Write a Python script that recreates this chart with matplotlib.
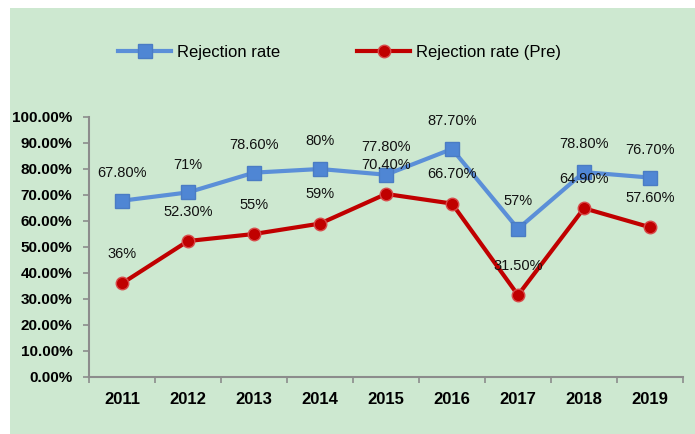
import matplotlib
matplotlib.use("Agg")
import matplotlib.pyplot as plt
from matplotlib.patches import Rectangle
from matplotlib.ticker import FuncFormatter, FixedLocator
import numpy as np

years = ["2011", "2012", "2013", "2014", "2015", "2016", "2017", "2018", "2019"]
rejection = [67.8, 71.0, 78.6, 80.0, 77.8, 87.7, 57.0, 78.8, 76.7]
rejection_pre = [36.0, 52.3, 55.0, 59.0, 70.4, 66.7, 31.5, 64.9, 57.6]
rejection_labels = ["67.80%", "71%", "78.60%", "80%", "77.80%", "87.70%", "57%", "78.80%", "76.70%"]
pre_labels = ["36%", "52.30%", "55%", "59%", "70.40%", "66.70%", "31.50%", "64.90%", "57.60%"]
yticks = [0, 10, 20, 30, 40, 50, 60, 70, 80, 90, 100]

BG = "#cde8d0"
BLUE = "#5b8fd8"
BLUE_M = "#4f86d4"
RED = "#c00000"

plt.rcParams["font.family"] = ["Liberation Sans", "DejaVu Sans"]

fig = plt.figure(figsize=(6.95, 4.34), dpi=100)
fig.patch.set_facecolor("white")
fig.patches.append(Rectangle((10 / 695, 0), 1, 1 - 8 / 434, transform=fig.transFigure,
                             facecolor=BG, edgecolor="none", zorder=-10))

ax = fig.add_axes([89 / 695, 1 - 377 / 434, (683 - 89) / 695, (377 - 117) / 434])
ax.set_facecolor("none")

x = np.arange(len(years))
ax.plot(x, rejection, color=BLUE, lw=3, marker="s", ms=9.5, mfc=BLUE_M, mec="#4a7cc4",
        mew=1, label="Rejection rate", zorder=3)
ax.plot(x, rejection_pre, color=RED, lw=3, marker="o", ms=9, mfc=RED, mec="#d84a4a",
        mew=1, label="Rejection rate (Pre)", zorder=3)

for xi, v, s in zip(x, rejection, rejection_labels):
    ax.annotate(s, (xi, v), xytext=(0, 20), textcoords="offset points", ha="center",
                va="center", fontsize=10.5, color="#111111", zorder=4)
for xi, v, s in zip(x, rejection_pre, pre_labels):
    ax.annotate(s, (xi, v), xytext=(0, 21), textcoords="offset points", ha="center",
                va="center", fontsize=10.5, color="#111111", zorder=4)

ax.set_xlim(-0.5, len(years) - 0.5)
ax.set_ylim(0, 100)
ax.set_yticks(yticks)
ax.yaxis.set_major_formatter(FuncFormatter(lambda v, p: f"{v:.2f}%"))
ax.set_xticks(x)
ax.set_xticklabels(years)
ax.xaxis.set_minor_locator(FixedLocator(np.arange(-0.5, len(years), 1.0)))

for sp in ["top", "right"]:
    ax.spines[sp].set_visible(False)
for sp in ["left", "bottom"]:
    ax.spines[sp].set_color("#8c8c8c")
    ax.spines[sp].set_linewidth(1.5)

ax.tick_params(axis="y", length=4, width=1.2, color="#8c8c8c", pad=8,
               labelsize=11)
ax.tick_params(axis="x", which="major", length=0, pad=11, labelsize=12)
ax.tick_params(axis="x", which="minor", length=4, width=1.2, color="#8c8c8c")
for lab in ax.get_xticklabels() + ax.get_yticklabels():
    lab.set_fontweight("bold")

fig.legend(loc="center left", bbox_to_anchor=(118 / 695, 1 - 52 / 434), ncol=2,
           frameon=False, borderpad=0, borderaxespad=0, fontsize=12,
           handlelength=3.2, handletextpad=0.35, columnspacing=4.6)

fig.savefig("out.png", dpi=100)
